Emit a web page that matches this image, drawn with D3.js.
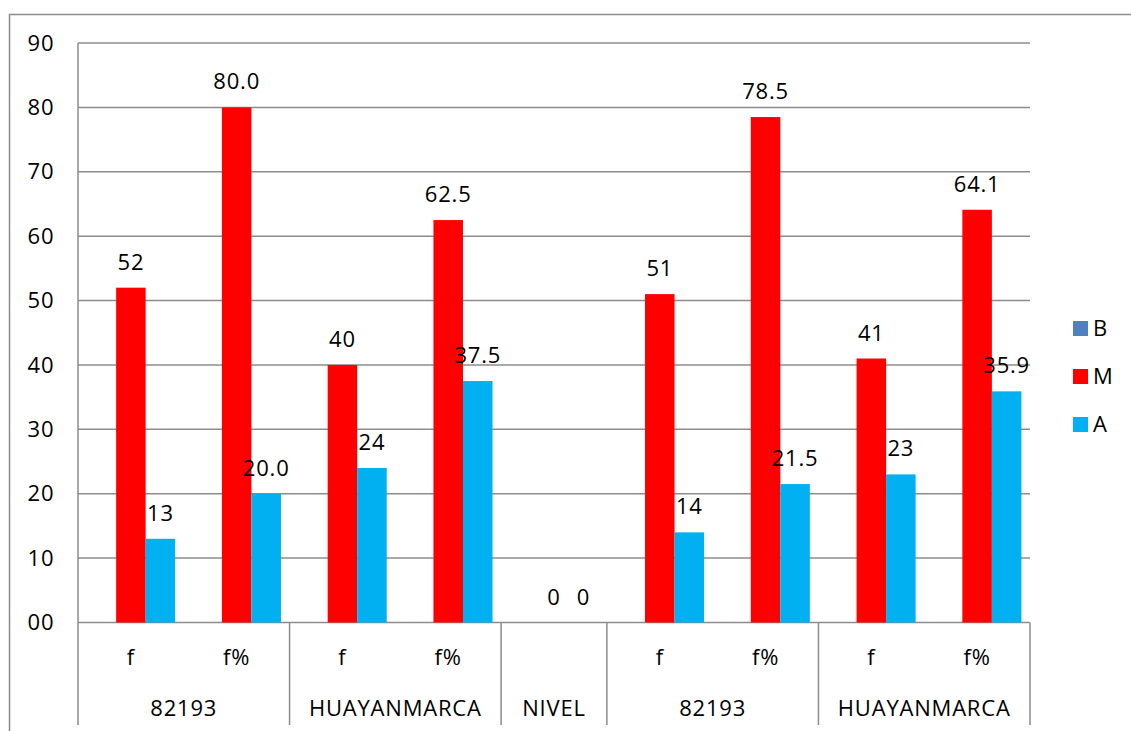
<!DOCTYPE html>
<html><head><meta charset="utf-8">
<script src="https://cdn.jsdelivr.net/npm/d3@7"></script>
<style>html,body{margin:0;padding:0;background:#fff;}svg{display:block;}</style>
</head><body>
<script>
const categories = ["f","f%","f","f%","","f","f%","f","f%"];
const groups = [
  {name:"82193", start:0, end:2},
  {name:"HUAYANMARCA", start:2, end:4},
  {name:"NIVEL", start:4, end:5},
  {name:"82193", start:5, end:7},
  {name:"HUAYANMARCA", start:7, end:9}
];
const seriesNames = ["B","M","A"];
const seriesColors = ["#4F81BD","#FF0000","#00B0F0"];
const valuesB = [null,null,null,null,null,null,null,null,null];
const valuesM = [52,80.0,40,62.5,0,51,78.5,41,64.1];
const valuesA = [13,20.0,24,37.5,0,14,21.5,23,35.9];
const labelDecimals = [0,1,0,1,0,0,1,0,1];
const yTicks = [0,10,20,30,40,50,60,70,80,90];

(function(){
const W=1131,H=731;
const font = "'Open Sans', 'Noto Sans', sans-serif";
const fs = 22, ls = "0.8px";
const gray = "#8c8c8c";
const svg = d3.select("body").append("svg").attr("width",W).attr("height",H);
const txt = sel => sel.attr("font-family",font).attr("font-size",fs).attr("letter-spacing",ls).attr("fill","#000");

// outer border
svg.append("rect").attr("x",9.5).attr("y",14.5).attr("width",1200).attr("height",800)
  .attr("fill","none").attr("stroke",gray).attr("stroke-width",1.5);

const pL=78, pR=1030, pT=43, pB=622.5;
const x = d3.scaleBand().domain(d3.range(categories.length)).range([pL,pR]).padding(0);
const x1 = d3.scaleBand().domain(seriesNames).range([8.6, x.bandwidth()-8.6]).padding(0);
const y = d3.scaleLinear().domain([0,90]).range([pB,pT]);

// gridlines
svg.append("g").selectAll("line").data(yTicks).join("line")
  .attr("x1",pL).attr("x2",pR).attr("y1",d=>y(d)).attr("y2",d=>y(d))
  .attr("stroke",gray).attr("stroke-width",1.5);
// y axis line
svg.append("line").attr("x1",pL).attr("x2",pL).attr("y1",pT).attr("y2",pB)
  .attr("stroke",gray).attr("stroke-width",1.5);
// y tick labels
svg.append("g").selectAll("text").data(yTicks).join("text")
  .attr("x",41).attr("y",d=>y(d)).attr("dy","0.35em").attr("text-anchor","middle")
  .call(txt)
  .text(d=>d3.format("02d")(d));

// bars
const series = [valuesB, valuesM, valuesA];
series.forEach((vals,si)=>{
  const g = svg.append("g");
  g.selectAll("rect").data(vals.map((v,i)=>({v,i})).filter(d=>d.v!==null && d.v>0)).join("rect")
    .attr("x",d=>x(d.i)+x1(seriesNames[si]))
    .attr("width",x1.bandwidth())
    .attr("y",d=>y(d.v))
    .attr("height",d=>y(0)-y(d.v))
    .attr("fill",seriesColors[si]);
  g.selectAll("text").data(vals.map((v,i)=>({v,i})).filter(d=>d.v!==null)).join("text")
    .attr("x",d=>x(d.i)+x1(seriesNames[si])+x1.bandwidth()/2)
    .attr("y",d=>y(d.v)-18)
    .attr("text-anchor","middle")
    .call(txt)
    .text(d=>d.v.toFixed(labelDecimals[d.i]));
});

// category dividers
const bounds = [groups[0].start].concat(groups.map(g=>g.end));
const bx = d=> d===categories.length ? pR : x(d);
svg.append("g").selectAll("line").data(bounds).join("line")
  .attr("x1",bx).attr("x2",bx)
  .attr("y1",pB).attr("y2",725)
  .attr("stroke",gray).attr("stroke-width",1.5);
// sub labels
svg.append("g").selectAll("text").data(categories).join("text")
  .attr("x",(d,i)=>x(i)+x.bandwidth()/2).attr("y",657).attr("dy","0.35em")
  .attr("text-anchor","middle").call(txt)
  .text(d=>d);
// group labels
svg.append("g").selectAll("text").data(groups).join("text")
  .attr("x",d=>(bx(d.start)+bx(d.end))/2).attr("y",708).attr("dy","0.35em")
  .attr("text-anchor","middle").call(txt)
  .text(d=>d.name);

// legend
const lg = svg.append("g").selectAll("g").data(seriesNames).join("g")
  .attr("transform",(d,i)=>`translate(1073,${328+i*48})`);
lg.append("rect").attr("x",0).attr("y",-7).attr("width",15).attr("height",15)
  .attr("fill",(d,i)=>seriesColors[i]);
lg.append("text").attr("x",20).attr("y",0).attr("dy","0.35em")
  .call(txt).text(d=>d);
})();
</script>
</body></html>
